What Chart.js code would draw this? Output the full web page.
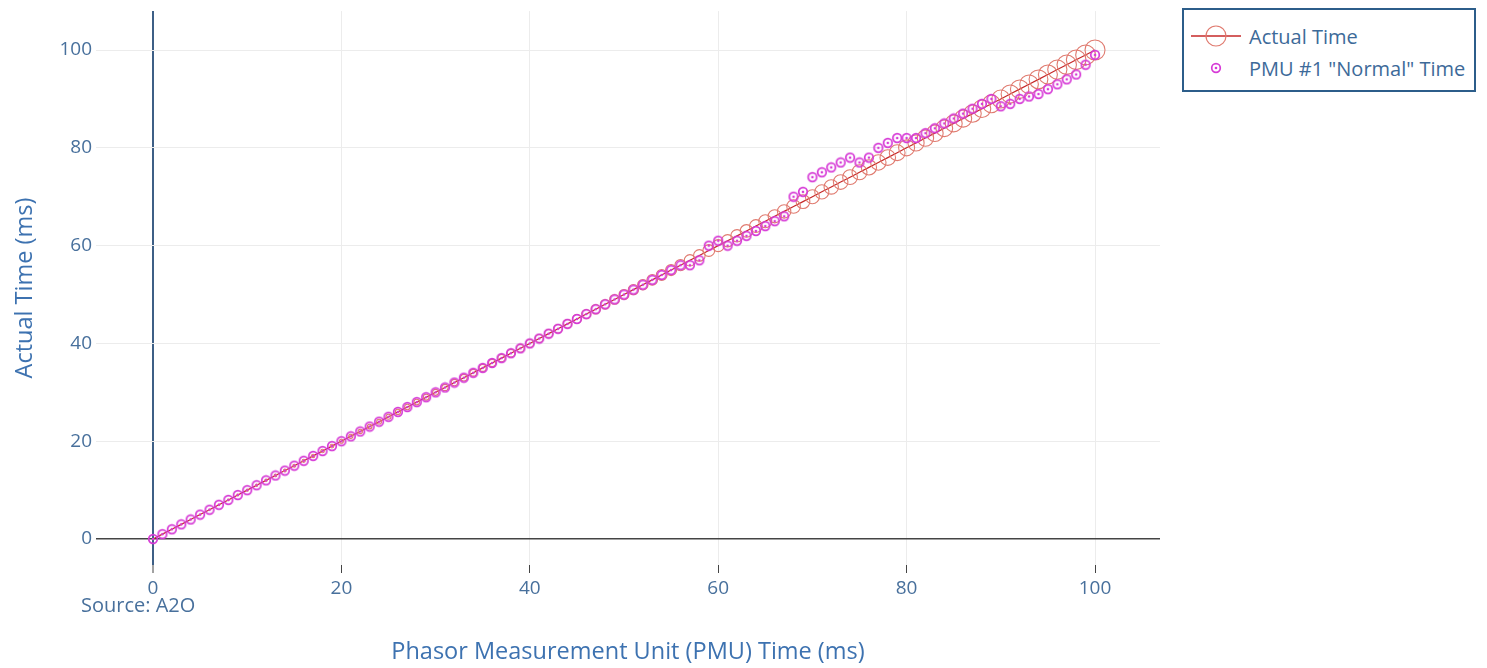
<!DOCTYPE html>
<html>
<head>
<meta charset="utf-8">
<script src="https://cdn.jsdelivr.net/npm/chart.js@4/dist/chart.umd.min.js"></script>
<style>
  body { margin: 0; background: #fff; }
  #wrap { position: relative; width: 1487px; height: 668px; }
  #legend {
    position: absolute; left: 1182px; top: 8px; width: 290px; height: 80px;
    border: 2.5px solid #2c5d8a; background: #fff;
    font-family: "Open Sans", sans-serif; font-size: 20px; color: #3d6a99;
  }
  .row { position: absolute; left: 0; height: 30px; display: flex; align-items: center; white-space: nowrap; }
  .row svg { margin-left: 6px; margin-right: 7px; }
</style>
</head>
<body>
<div id="wrap">
  <canvas id="timing-chart" width="1487" height="668"></canvas>
  <div id="legend">
    <div class="row" style="top: 11px;">
      <svg width="52" height="30"><line x1="1" y1="15" x2="51" y2="15" stroke="#c62828" stroke-width="1.3"/><circle cx="26" cy="15" r="10" fill="none" stroke="#e07b70" stroke-width="1.2"/></svg>
      <span>Actual Time</span>
    </div>
    <div class="row" style="top: 43px;">
      <svg width="52" height="30"><circle cx="26" cy="15" r="4.3" fill="none" stroke="#d63ad6" stroke-width="1.7"/><circle cx="26" cy="15" r="1.3" fill="#d63ad6"/></svg>
      <span>PMU #1 "Normal" Time</span>
    </div>
  </div>
</div>
<script>
const pmuTime = [
  0, 1, 2, 3, 4, 5, 6, 7, 8, 9, 10, 11, 12, 13, 14, 15, 16, 17, 18, 19,
  20, 21, 22, 23, 24, 25, 26, 27, 28, 29, 30, 31, 32, 33, 34, 35, 36, 37, 38, 39,
  40, 41, 42, 43, 44, 45, 46, 47, 48, 49, 50, 51, 52, 53, 54, 55, 56, 57, 58, 59,
  60, 61, 62, 63, 64, 65, 66, 67, 68, 69, 70, 71, 72, 73, 74, 75, 76, 77, 78, 79,
  80, 81, 82, 83, 84, 85, 86, 87, 88, 89, 90, 91, 92, 93, 94, 95, 96, 97, 98, 99, 100
];
const actualTime = [
  0, 1, 2, 3, 4, 5, 6, 7, 8, 9, 10, 11, 12, 13, 14, 15, 16, 17, 18, 19,
  20, 21, 22, 23, 24, 25, 26, 27, 28, 29, 30, 31, 32, 33, 34, 35, 36, 37, 38, 39,
  40, 41, 42, 43, 44, 45, 46, 47, 48, 49, 50, 51, 52, 53, 54, 55, 56, 57, 58, 59,
  60, 61, 62, 63, 64, 65, 66, 67, 68, 69, 70, 71, 72, 73, 74, 75, 76, 77, 78, 79,
  80, 81, 82, 83, 84, 85, 86, 87, 88, 89, 90, 91, 92, 93, 94, 95, 96, 97, 98, 99, 100
];
const pmuNormalTime = [
  0, 1, 2, 3, 4, 5, 6, 7, 8, 9, 10, 11, 12, 13, 14, 15, 16, 17, 18, 19,
  20, 21, 22, 23, 24, 25, 26, 27, 28, 29, 30, 31, 32, 33, 34, 35, 36, 37, 38, 39,
  40, 41, 42, 43, 44, 45, 46, 47, 48, 49, 50, 51, 52, 53, 54, 55, 56, 56, 57, 60,
  61, 60, 61, 62, 63, 64, 65, 66, 70, 71, 74, 75, 76, 77, 78, 77, 78, 80, 81, 82,
  82, 82, 83, 84, 85, 86, 87, 88, 89, 90, 88.5, 89, 90, 90.5, 91, 92, 93, 94, 95, 97, 99
];
const xTicks = [0, 20, 40, 60, 80, 100];
const yTicks = [0, 20, 40, 60, 80, 100];

const TEXT = "#48709c";
const TITLE = "#3d72b0";
const MAGENTA = "#d63ad6";

Chart.defaults.font.family = '"Open Sans", sans-serif';

// ring with a dot in the middle, like plotly's circle-open-dot
function makeDotRing() {
  const c = document.createElement("canvas");
  c.width = 12;
  c.height = 12;
  const g = c.getContext("2d");
  g.strokeStyle = MAGENTA;
  g.fillStyle = MAGENTA;
  g.lineWidth = 1.7;
  g.beginPath();
  g.arc(6, 6, 4.3, 0, Math.PI * 2);
  g.stroke();
  g.beginPath();
  g.arc(6, 6, 1.3, 0, Math.PI * 2);
  g.fill();
  return c;
}

const sourceNote = {
  id: "sourceNote",
  afterDraw(chart) {
    const ctx = chart.ctx;
    ctx.save();
    ctx.font = '20px "Open Sans", sans-serif';
    ctx.fillStyle = TEXT;
    ctx.textAlign = "left";
    ctx.textBaseline = "middle";
    ctx.fillText("Source: A2O", 81, 606);
    ctx.restore();
  }
};

new Chart(document.getElementById("timing-chart"), {
  type: "scatter",
  data: {
    datasets: [
      {
        label: "Actual Time",
        data: pmuTime.map((x, i) => ({ x, y: actualTime[i] })),
        showLine: true,
        borderColor: "#c62828",
        borderWidth: 1.2,
        pointBorderColor: "#e07b70",
        pointBackgroundColor: "rgba(0,0,0,0)",
        pointBorderWidth: 1.1,
        pointRadius: ctx => Math.max(ctx.raw.x / 10, 0.5),
        order: 1
      },
      {
        label: 'PMU #1 "Normal" Time',
        data: pmuTime.map((x, i) => ({ x, y: pmuNormalTime[i] })),
        showLine: false,
        pointStyle: makeDotRing(),
        order: 0
      }
    ]
  },
  options: {
    responsive: false,
    animation: false,
    events: [],
    clip: false,
    layout: { padding: { left: 0, right: 327, top: 9, bottom: 0 } },
    plugins: {
      legend: { display: false },
      tooltip: { enabled: false }
    },
    scales: {
      x: {
        type: "linear",
        min: -6.05,
        max: 106.9,
        afterFit: s => { s.height = 103; s.paddingLeft = 0; s.paddingRight = 0; },
        afterBuildTicks: s => { s.ticks = xTicks.map(v => ({ value: v })); },
        border: { display: false },
        grid: {
          color: c => (c.tick && c.tick.value === 0 ? "#3d5f86" : "#ececec"),
          lineWidth: c => (c.tick && c.tick.value === 0 ? 2 : 1),
          drawTicks: true,
          tickLength: 8,
          tickColor: "#444",
          tickWidth: 1
        },
        ticks: { color: TEXT, font: { size: 19 }, padding: 4, maxRotation: 0 },
        title: {
          display: true,
          text: "Phasor Measurement Unit (PMU) Time (ms)",
          color: TITLE,
          font: { size: 23.5 },
          padding: { top: 0, bottom: 2 }
        }
      },
      y: {
        type: "linear",
        min: -5.31,
        max: 107.96,
        afterFit: s => { s.width = 96; s.paddingTop = 0; s.paddingBottom = 0; },
        afterBuildTicks: s => { s.ticks = yTicks.map(v => ({ value: v })); },
        border: { display: false },
        grid: {
          color: c => (c.tick && c.tick.value === 0 ? "#444" : "#ececec"),
          lineWidth: c => (c.tick && c.tick.value === 0 ? 1.5 : 1),
          drawTicks: false
        },
        ticks: { color: TEXT, font: { size: 19 }, padding: 4 },
        title: {
          display: true,
          text: "Actual Time (ms)",
          color: TITLE,
          font: { size: 23.5 },
          padding: { top: 11, bottom: 0 }
        }
      }
    }
  },
  plugins: [sourceNote]
});
</script>
</body>
</html>
